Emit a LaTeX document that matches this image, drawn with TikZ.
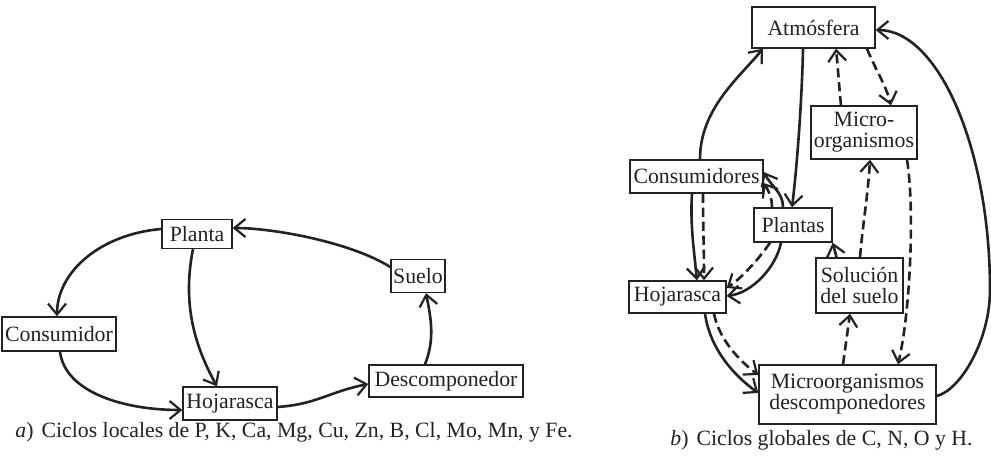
\documentclass[tikz,border=0pt]{standalone}
\usepackage{fontspec}
\setmainfont{Liberation Serif}
\usetikzlibrary{arrows.meta,calc}
\definecolor{ink}{HTML}{222222}
\begin{document}
\begin{tikzpicture}[x=0.5pt,y=-0.5pt,
  every node/.style={text=ink, font=\fontsize{10.9}{10.5}\selectfont},
  box/.style={draw=ink, line width=0.7pt, inner sep=0pt, align=center},
  flow/.style={draw=ink, line width=1.3pt,
    -{Straight Barb[length=5.5pt,width=9pt,line width=1.1pt]}},
  dflow/.style={flow, dash pattern=on 4.6pt off 2.4pt},
]
\useasboundingbox[fill=white] (0,0) rectangle (991,464);

% ---------- a) local cycles ----------
\node[box, minimum width=35pt, minimum height=14.5pt] (planta) at (197,234) {Planta};
\node[box, minimum width=27pt, minimum height=16.5pt] (suelo) at (418,276) {Suelo};
\node[box, minimum width=57pt, minimum height=17pt] (consumidor) at (59,334) {Consumidor};
\node[box, minimum width=47pt, minimum height=16.5pt] (hoja) at (230,403.5) {Hojarasca};
\node[box, minimum width=77pt, minimum height=16pt] (desc) at (446,381) {Descomponedor};

\draw[flow] ($(planta.west)+(0,-5)$) .. controls +(-60,5) and +(0,-45) .. ($(consumidor.north)+(-2,0)$);
\draw[flow] ($(planta.south)+(-4,0)$) .. controls +(-10,50) and +(-25,-45) .. ($(hoja.north)+(-13,0)$);
\draw[flow] ($(consumidor.south)+(1,0)$) .. controls +(5,40) and +(-60,0) .. ($(hoja.west)+(0,6.5)$);
\draw[flow] ($(hoja.east)+(0,3.5)$) .. controls +(40,-3) and +(-40,8) .. ($(desc.west)+(0,3)$);
\draw[flow] ($(desc.north)+(-21,0)$) .. controls +(10,-25) and +(5,25) .. ($(suelo.south)+(8,0)$);
\draw[flow] ($(suelo.west)+(0,-9)$) .. controls +(-40,-25) and +(40,0) .. ($(planta.east)+(0,-6)$);

\node[anchor=base west, inner sep=0pt] (capa) at (15,438)
  {\textit{a})\hspace{4pt}Ciclos locales de P, K, Ca, Mg, Cu, Zn, B, Cl, Mo, Mn, y Fe.};

% ---------- b) global cycles ----------
\node[box, minimum width=61.5pt, minimum height=20.5pt] (atm) at (813.5,27.5) {Atmósfera};
\node[box, minimum width=53pt, minimum height=26.5pt] (micro) at (864,132.5) {Micro-\\organismos};
\node[box, minimum width=66.5pt, minimum height=16.5pt] (cons) at (696.5,176.5) {Consumidores};
\node[box, minimum width=39pt, minimum height=17pt] (plantas) at (793,225) {Plantas};
\node[box, minimum width=43.5pt, minimum height=27.5pt] (sol) at (859.5,285.5) {Solución\\del suelo};
\node[box, minimum width=48.5pt, minimum height=16pt] (hojb) at (677.5,297) {Hojarasca};
\node[box, minimum width=88.5pt, minimum height=29.5pt] (mdesc) at (847.5,394.5) {Microorganismos\\descomponedores};
\coordinate (swing) at (990,290);

% carbon flows (solid)
\draw[flow] ($(cons.north)+(3.5,0)$) .. controls +(0,-50) and +(-25,30) .. ($(atm.south)+(-50.5,0)$);
\draw[flow] ($(atm.south)+(-10.5,0)$) .. controls +(-1,50) and +(5,-40) .. ($(plantas.north)+(-1,0)$);
\draw[flow] ($(plantas.north)+(-10,0)$) .. controls +(0,-15) and +(8,15) .. ($(cons.east)+(0,-4.5)$);
\draw[flow] ($(plantas.south)+(-12,0)$) .. controls +(-5,25) and +(25,-3) .. ($(hojb.east)+(0,-1)$);
\draw[flow] ($(cons.south)+(-4.5,0)$) .. controls +(-2,30) and +(-3,-30) .. ($(hojb.north)+(19.5,0)$);
\draw[flow] ($(hojb.south)+(27.5,0)$) .. controls +(5,35) and +(-25,-18) .. ($(mdesc.west)+(0,-1.5)$);
\draw[flow] ($(sol.north)+(-23,0)$) -- (plantas.south east);
\draw[flow] ($(mdesc.east)+(0,1.5)$) .. controls +(24,-6) and +(0,50) .. (swing)
  .. controls +(0,-143) and +(62,0) .. ($(atm.east)+(0,2.5)$);

% nutrient flows (dashed)
\draw[dflow] ($(plantas.north)+(-21,0)$) .. controls +(0,-10) and +(5,8) .. ($(cons.east)+(0,6.5)$);
\draw[dflow] ($(plantas.south)+(-23,0)$) .. controls +(-10,15) and +(15,-10) .. ($(hojb.east)+(0,-9)$);
\draw[dflow] ($(cons.south)+(6.5,0)$) .. controls +(0,30) and +(0,-30) .. ($(hojb.north)+(26.5,0)$);
\draw[dflow] ($(hojb.south)+(36.5,0)$) .. controls +(5,25) and +(-20,-15) .. ($(mdesc.west)+(0,-19.5)$);
\draw[dflow] ($(sol.north)+(0.5,0)$) .. controls +(3,-35) and +(-2,35) .. ($(micro.south)+(6,0)$);
\draw[dflow] ($(micro.north)+(-23,0)$) .. controls +(-2,-20) and +(2,20) .. ($(atm.south)+(22.5,0)$);
\draw[dflow] ($(atm.south)+(53.5,0)$) .. controls +(8,20) and +(-5,-20) .. ($(micro.north)+(27,0)$);
\draw[dflow] ($(micro.south)+(43,0)$) .. controls +(8,50) and +(12,-50) .. ($(mdesc.north)+(50.5,0)$);
\draw[dflow] ($(mdesc.north)+(-4.5,0)$) -- ($(sol.south)+(-9.5,0)$);

\node[anchor=base west, inner sep=0pt] (capb) at (670,446)
  {\textit{b})\hspace{4pt}Ciclos globales de C, N, O y H.};
\end{tikzpicture}
\end{document}
